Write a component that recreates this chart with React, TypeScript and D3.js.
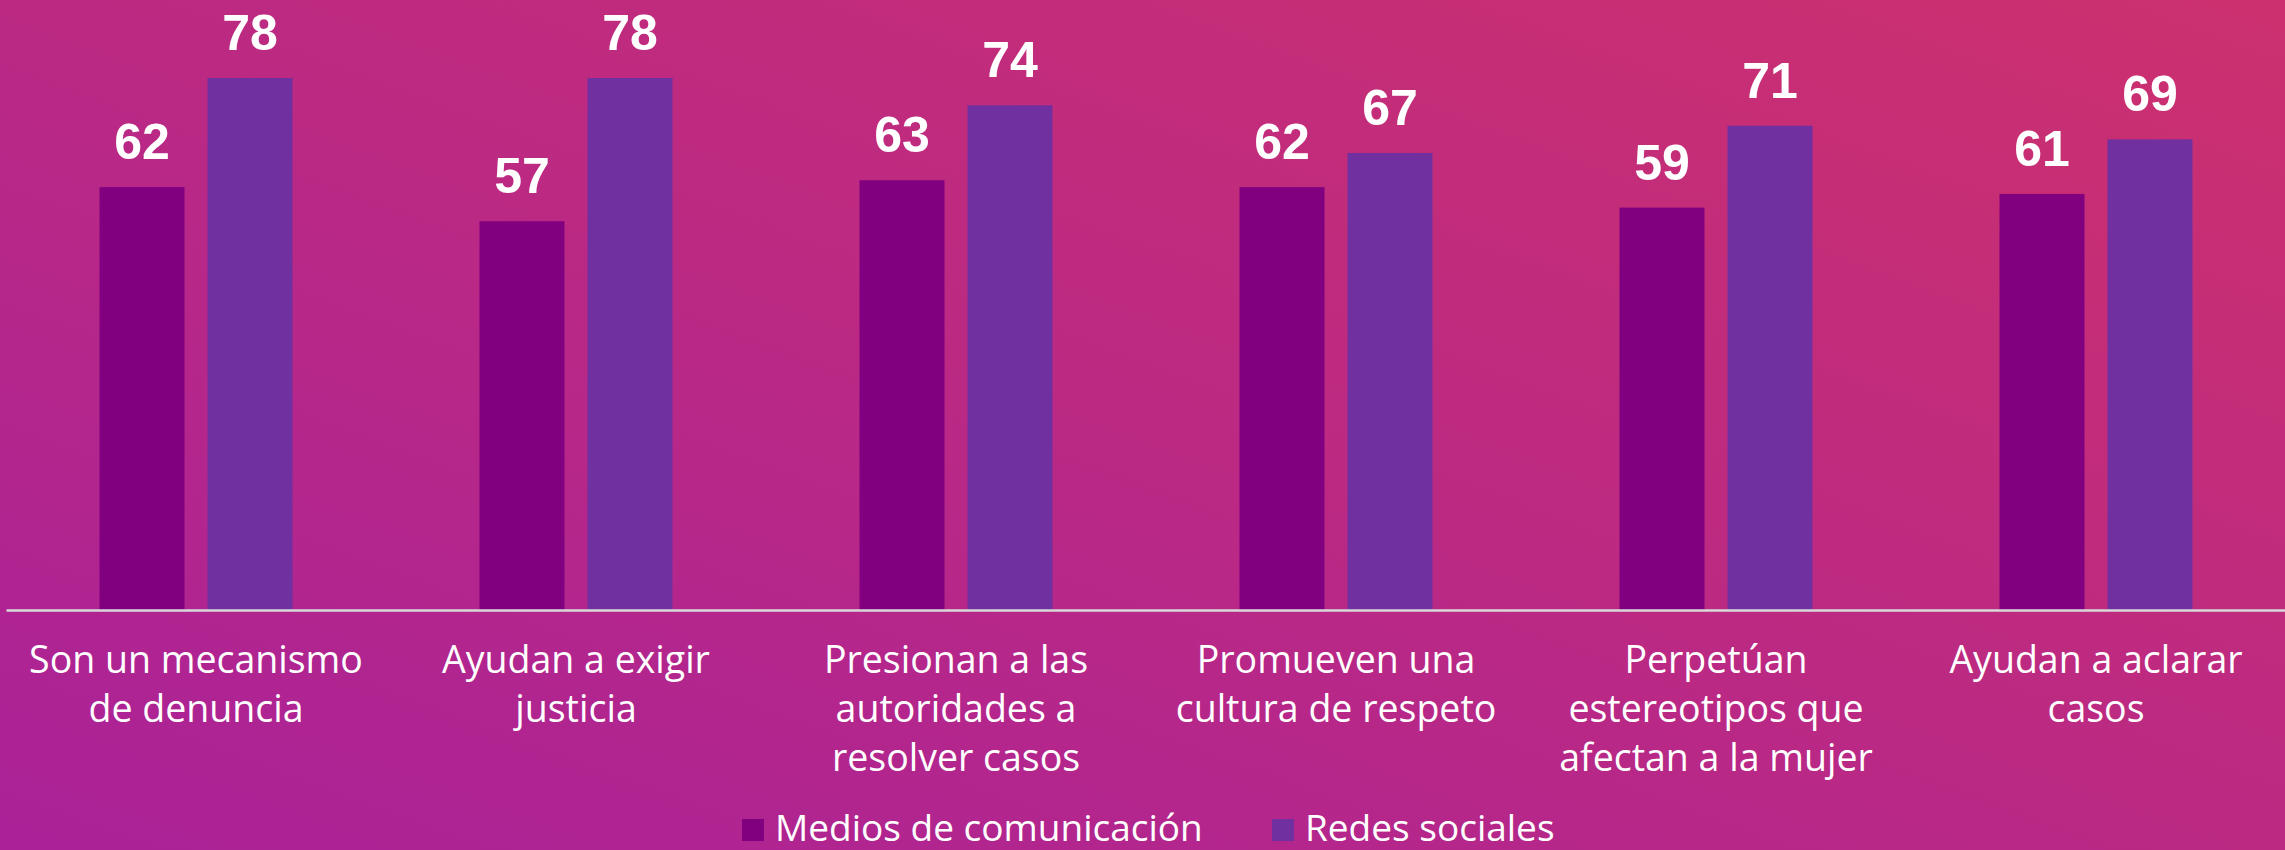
import React, { useEffect, useRef } from "react";
import * as d3 from "d3";

// categories (wrapped as in the original)
const categories = [
  ["Son un mecanismo", "de denuncia"],
  ["Ayudan a exigir", "justicia"],
  ["Presionan a las", "autoridades a", "resolver casos"],
  ["Promueven una", "cultura de respeto"],
  ["Perpetúan", "estereotipos que", "afectan a la mujer"],
  ["Ayudan a aclarar", "casos"],
];
const seriesNames = ["Medios de comunicación", "Redes sociales"];
const medios = [62, 57, 63, 62, 59, 61];
const redes = [78, 78, 74, 67, 71, 69];
const colors = ["#800080", "#7030A0"];

const W = 2285;
const H = 850;

export default function App() {
  const ref = useRef<SVGSVGElement>(null);

  useEffect(() => {
    const svg = d3.select(ref.current);
    svg.selectAll("*").remove();

    const defs = svg.append("defs");
    const grad = defs
      .append("linearGradient")
      .attr("id", "bg")
      .attr("x1", "0")
      .attr("y1", "1")
      .attr("x2", "1")
      .attr("y2", "0");
    grad.append("stop").attr("offset", "0").attr("stop-color", "#aa2298");
    grad.append("stop").attr("offset", "1").attr("stop-color", "#cc306e");
    svg.append("rect").attr("width", W).attr("height", H).attr("fill", "url(#bg)");

    const keys = categories.map((c) => c.join(" "));
    const x = d3.scaleBand().domain(keys).range([6, 2286]);
    const xs = d3
      .scaleBand()
      .domain(seriesNames)
      .range([93.5, 286.5])
      .paddingInner(0.213);
    const y = d3.scaleLinear().domain([0, 78]).range([610, 78]);

    const rows = keys.map((k, i) => ({ key: k, values: [medios[i], redes[i]] }));

    const groups = svg
      .selectAll("g.grp")
      .data(rows)
      .enter()
      .append("g")
      .attr("class", "grp")
      .attr("transform", (d) => `translate(${x(d.key)},0)`);

    const cells = groups
      .selectAll("g.cell")
      .data((d) => d.values.map((v, j) => ({ v, s: seriesNames[j], j })))
      .enter()
      .append("g")
      .attr("class", "cell");

    cells
      .append("rect")
      .attr("x", (d) => xs(d.s)!)
      .attr("y", (d) => y(d.v))
      .attr("width", xs.bandwidth())
      .attr("height", (d) => y(0) - y(d.v))
      .attr("fill", (d) => colors[d.j]);

    cells
      .append("text")
      .attr("x", (d) => xs(d.s)! + xs.bandwidth() / 2)
      .attr("y", (d) => y(d.v) - 28)
      .attr("text-anchor", "middle")
      .attr("fill", "#fff")
      .attr("font-family", "'Liberation Sans', Arial, sans-serif")
      .attr("font-weight", "bold")
      .attr("font-size", 50)
      .text((d) => d.v);

    // baseline
    const axis = svg
      .append("g")
      .attr("transform", `translate(0,${y(0)})`)
      .call(d3.axisBottom(x).tickSize(0).tickSizeOuter(0).tickFormat(() => ""));
    axis.select(".domain").attr("stroke", "#d9d9d9").attr("stroke-width", 2.5);

    // category labels
    groups.each(function (d, i) {
      const t = d3
        .select(this)
        .append("text")
        .attr("text-anchor", "middle")
        .attr("fill", "#fff")
        .attr("font-family", "'Open Sans', sans-serif")
        .attr("font-size", 37.5);
      categories[i].forEach((line, li) => {
        t.append("tspan")
          .attr("x", x.bandwidth() / 2)
          .attr("y", 673 + li * 49)
          .text(line);
      });
    });

    // legend
    const legend = svg.append("g");
    const items = [
      { name: seriesNames[0], x: 742, c: colors[0] },
      { name: seriesNames[1], x: 1272, c: colors[1] },
    ];
    items.forEach((it) => {
      legend
        .append("rect")
        .attr("x", it.x)
        .attr("y", 819)
        .attr("width", 22)
        .attr("height", 22)
        .attr("fill", it.c);
      legend
        .append("text")
        .attr("x", it.x + 33)
        .attr("y", 841)
        .attr("fill", "#fff")
        .attr("font-family", "'Open Sans', sans-serif")
        .attr("font-size", 37)
        .text(it.name);
    });
  }, []);

  return (
    <svg
      ref={ref}
      width={W}
      height={H}
      style={{ position: "absolute", left: 0, top: 0 }}
    />
  );
}
